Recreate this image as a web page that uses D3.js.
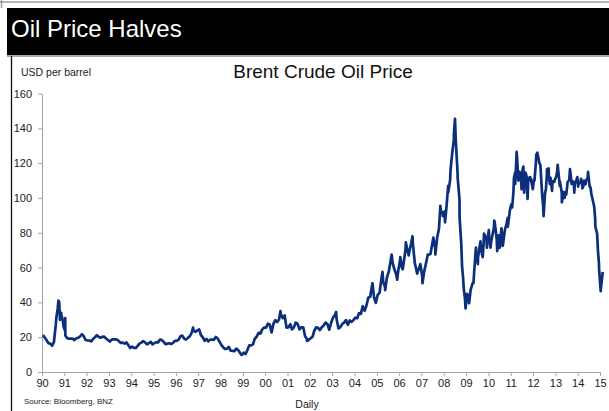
<!DOCTYPE html>
<html>
<head>
<meta charset="utf-8">
<script src="https://cdn.jsdelivr.net/npm/d3@7"></script>
<style>
  body { margin: 0; background: #fff; }
  text { font-family: "Liberation Sans", Arial, sans-serif; }
  .axis path, .axis line { stroke: #a6a6a6; }
  .axis text { fill: #222; font-size: 11px; }
</style>
</head>
<body>
<script>
// Brent, USD per barrel (monthly level, 1990 - Feb 2015)
const years = [1990, 1991, 1992, 1993, 1994, 1995, 1996, 1997, 1998, 1999, 2000, 2001, 2002,
  2003, 2004, 2005, 2006, 2007, 2008, 2009, 2010, 2011, 2012, 2013, 2014, 2015];
const monthly = [
  [21.2, 19.8, 18.4, 16.6, 16.3, 15.1, 17.2, 27.2, 36.5, 36.0, 32.9, 28.0],
  [23.6, 19.5, 19.1, 19.2, 19.2, 18.3, 19.4, 19.6, 20.4, 21.7, 20.6, 18.4],
  [18.2, 18.1, 17.6, 18.9, 19.9, 21.1, 20.2, 19.7, 20.2, 20.3, 19.3, 18.4],
  [17.5, 18.6, 18.8, 18.7, 18.6, 17.6, 16.7, 16.9, 16.3, 17.0, 15.4, 13.8],
  [14.6, 13.9, 13.8, 15.0, 16.3, 16.9, 17.7, 17.0, 15.9, 16.5, 17.3, 15.9],
  [16.6, 17.2, 17.0, 18.6, 18.4, 17.3, 16.0, 16.3, 16.5, 16.1, 16.7, 17.9],
  [17.9, 18.6, 20.5, 20.9, 19.2, 18.6, 19.6, 20.5, 22.5, 24.0, 23.0, 23.9],
  [24.5, 21.1, 20.0, 17.9, 19.0, 17.6, 18.6, 18.6, 18.6, 20.1, 19.2, 17.4],
  [15.4, 14.1, 13.2, 13.4, 14.4, 12.2, 12.1, 12.0, 13.4, 12.6, 11.0, 9.8],
  [11.1, 10.3, 12.5, 15.3, 15.3, 15.9, 19.1, 20.3, 22.5, 22.0, 24.6, 25.5],
  [25.5, 27.8, 27.3, 22.7, 27.6, 29.8, 28.7, 30.2, 33.1, 30.9, 32.5, 25.5],
  [25.6, 27.5, 24.5, 25.7, 28.4, 27.7, 24.5, 25.7, 25.7, 20.5, 18.9, 18.5],
  [19.4, 20.3, 23.7, 25.7, 25.4, 24.1, 25.7, 26.7, 28.4, 27.5, 24.3, 28.3],
  [31.2, 32.8, 30.3, 25.0, 25.8, 27.6, 28.4, 29.8, 27.1, 29.6, 28.8, 29.8],
  [31.2, 30.9, 33.8, 33.4, 37.8, 35.2, 38.2, 42.7, 43.2, 49.8, 43.1, 39.7],
  [44.3, 45.5, 53.1, 51.9, 48.7, 54.3, 57.5, 63.9, 63.0, 59.0, 56.0, 57.6],
  [63.9, 60.0, 62.3, 70.4, 70.0, 68.9, 73.7, 73.2, 62.5, 58.0, 58.8, 62.0],
  [54.5, 57.8, 62.1, 67.5, 67.5, 71.3, 77.2, 70.8, 77.1, 82.3, 92.5, 91.5],
  [92.2, 94.9, 103.3, 110.4, 124.6, 133.5, 133.9, 113.9, 99.1, 72.8, 53.2, 41.6],
  [44.9, 43.2, 47.0, 50.8, 58.6, 69.3, 65.8, 73.1, 68.2, 73.9, 77.5, 75.2],
  [77.0, 74.8, 79.9, 85.7, 77.0, 75.7, 75.6, 77.1, 78.2, 83.5, 86.1, 92.0],
  [96.5, 103.7, 114.6, 123.3, 114.5, 113.9, 116.5, 110.4, 112.8, 109.6, 110.5, 107.9],
  [110.7, 119.3, 125.5, 119.8, 110.3, 95.2, 102.6, 113.2, 113.0, 111.5, 109.5, 109.2],
  [112.3, 116.1, 109.5, 103.3, 103.3, 103.3, 107.4, 110.3, 111.2, 109.5, 108.1, 110.8],
  [108.1, 108.9, 107.5, 107.8, 109.5, 111.8, 106.8, 101.6, 97.1, 87.4, 79.4, 62.3],
  [47.8, 57.5]
];
// daily highs / lows that stick out of the monthly level
const dailyDates = [
  "1990-08-23", "1990-09-27", "1990-10-10", "1990-10-22", "1990-11-12", "1990-12-20", "1991-01-16", "1991-01-18",
  "1996-10-08", "1998-12-10", "2000-09-07", "2001-11-15", "2003-03-07", "2004-10-22",
  "2005-04-04", "2005-05-18", "2005-09-01", "2005-11-30",
  "2006-01-20", "2006-02-28", "2006-04-21", "2006-06-07", "2006-08-08", "2006-10-23",
  "2007-01-18", "2007-05-31", "2007-08-16", "2007-11-07", "2007-12-19",
  "2008-01-22", "2008-03-14", "2008-04-21", "2008-06-16", "2008-07-03", "2008-08-15",
  "2008-09-16", "2008-10-27", "2008-11-20", "2008-12-23",
  "2009-02-18", "2009-03-03", "2009-04-01", "2009-05-01", "2009-06-11", "2009-07-13",
  "2009-08-24", "2009-09-30", "2009-10-21", "2009-11-30", "2009-12-08",
  "2010-01-08", "2010-02-05", "2010-03-31", "2010-04-06", "2010-05-25", "2010-06-21",
  "2010-07-06", "2010-08-03", "2010-08-24", "2010-09-30", "2010-10-12", "2010-11-12",
  "2010-11-16", "2010-12-28",
  "2011-01-25", "2011-02-23", "2011-03-16", "2011-04-08", "2011-05-06", "2011-05-27",
  "2011-06-27", "2011-07-27", "2011-08-08", "2011-08-31", "2011-10-04", "2011-10-25",
  "2011-11-16", "2011-12-29",
  "2012-01-25", "2012-02-24", "2012-03-13", "2012-04-30", "2012-05-31", "2012-06-22",
  "2012-07-30", "2012-08-16", "2012-09-14", "2012-10-03", "2012-11-07", "2012-12-18",
  "2013-01-30", "2013-02-08", "2013-03-14", "2013-04-17", "2013-05-31", "2013-06-28",
  "2013-07-19", "2013-08-28", "2013-09-23", "2013-10-31", "2013-11-06", "2013-12-26",
  "2014-01-09", "2014-02-25", "2014-03-20", "2014-04-15", "2014-05-12", "2014-06-19",
  "2014-07-30", "2014-08-18", "2014-09-30", "2014-10-16", "2014-11-28", "2014-12-16",
  "2015-01-13"];
const dailyValues = [
  31, 41, 40, 30, 34, 26, 31, 21,
  25.5, 9.8, 35, 17.8, 34.5, 51,
  57.5, 47, 67.5, 53,
  66, 59, 74.5, 67, 78, 56.5,
  51, 68, 67.5, 95.5, 89.5,
  86, 107, 116, 137, 145.5, 112,
  89, 60.5, 49, 36.5,
  39.5, 43, 49, 51, 71.5, 62,
  75, 66, 79.5, 76, 71.5,
  81.5, 71.5, 82.5, 87, 69.5, 78.5,
  71.5, 82.5, 72.5, 82, 83.5, 88.5,
  83.5, 94.5,
  94.5, 111.5, 108, 126.5, 110, 115,
  105, 118, 103, 114.5, 99.5, 111.5,
  112, 105,
  110, 125, 126, 119, 101, 89.5,
  105, 116.5, 117, 108, 104, 110,
  115, 119, 107, 97.5, 100, 102,
  109, 116.5, 108, 108.5, 103, 112,
  106.5, 111, 105.5, 110, 108, 115,
  106, 101.5, 94.5, 83.8, 70, 59.5,
  46.5];
const yTicks = [0, 20, 40, 60, 80, 100, 120, 140, 160];

const W = 609, H = 411;
const svg = d3.select("body").append("svg").attr("width", W).attr("height", H);

// slide frame + header bar
svg.append("line").attr("x1", 0).attr("x2", W).attr("y1", 2).attr("y2", 2)
  .attr("stroke", "#9a9a9a").attr("stroke-width", 1.5);
svg.append("line").attr("x1", 1.5).attr("x2", 1.5).attr("y1", 0).attr("y2", 8)
  .attr("stroke", "#9a9a9a").attr("stroke-width", 1.5);
svg.append("rect").attr("x", 7).attr("y", 8).attr("width", W - 7).attr("height", 47).attr("fill", "#000");
svg.append("line").attr("x1", 7).attr("x2", W).attr("y1", 56).attr("y2", 56)
  .attr("stroke", "#8c8c8c").attr("stroke-width", 1.5);
svg.append("line").attr("x1", 11.5).attr("x2", 11.5).attr("y1", 56).attr("y2", H)
  .attr("stroke", "#111").attr("stroke-width", 1.3);
svg.append("text").attr("x", 11).attr("y", 37).attr("fill", "#fff")
  .style("font-size", "24px").text("Oil Price Halves");

// chart texts
svg.append("text").attr("x", 323).attr("y", 78).attr("text-anchor", "middle")
  .style("font-size", "19px").attr("fill", "#111").text("Brent Crude Oil Price");
svg.append("text").attr("x", 21).attr("y", 76).style("font-size", "10.5px")
  .attr("fill", "#222").text("USD per barrel");
svg.append("text").attr("x", 24).attr("y", 404).style("font-size", "8px")
  .attr("fill", "#222").text("Source: Bloomberg, BNZ");
svg.append("text").attr("x", 307).attr("y", 408).attr("text-anchor", "middle")
  .style("font-size", "10.5px").attr("fill", "#222").text("Daily");

// data
const parse = d3.timeParse("%Y-%m-%d");
const points = [];
monthly.forEach((vals, i) => {
  vals.forEach((v, m) => points.push({date: new Date(years[i], m, 15), value: v}));
});
dailyDates.forEach((d, i) => points.push({date: parse(d), value: dailyValues[i]}));
points.sort((a, b) => a.date - b.date);

const x = d3.scaleTime().domain([new Date(1990, 0, 1), new Date(2015, 0, 1)]).range([42, 600]);
const y = d3.scaleLinear().domain([0, 160]).range([372, 93.5]);

const xAxis = d3.axisBottom(x).ticks(d3.timeYear.every(1))
  .tickFormat(d3.timeFormat("%y")).tickSize(4).tickSizeOuter(0).tickPadding(3);
const yAxis = d3.axisLeft(y).tickValues(yTicks).tickSize(4).tickSizeOuter(0).tickPadding(6);

svg.append("g").attr("class", "x axis").attr("transform", "translate(0,372)").call(xAxis);
svg.append("g").attr("class", "y axis").attr("transform", "translate(42,0)").call(yAxis);

const line = d3.line().x(d => x(d.date)).y(d => y(d.value));
svg.append("path").datum(points).attr("d", line)
  .attr("fill", "none").attr("stroke", "#0b2f7a").attr("stroke-width", 2.7)
  .attr("stroke-linejoin", "round");
</script>
</body>
</html>
